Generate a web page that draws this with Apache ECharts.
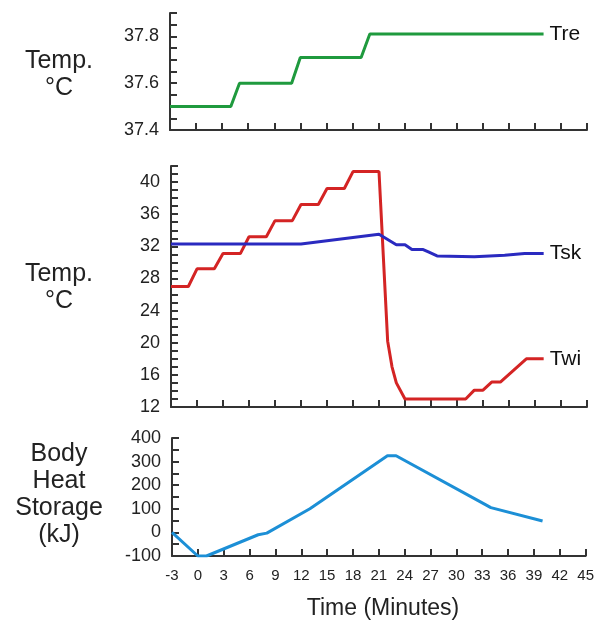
<!DOCTYPE html>
<html>
<head>
<meta charset="utf-8">
<script src="https://cdn.jsdelivr.net/npm/echarts@6/dist/echarts.min.js"></script>
<style>
  html, body { margin: 0; padding: 0; background: #fff; }
  #chart { width: 597px; height: 624px; }
</style>
</head>
<body>
<div id="chart"></div>
<script>
// time (minutes) / value pairs
const treTime = [-3, 4, 5, 11, 12, 19, 20, 40];
const treVals = [37.5, 37.5, 37.6, 37.6, 37.71, 37.71, 37.81, 37.81];

const twiTime = [-3, -1, 0, 2, 3, 5, 6, 8, 9, 11, 12, 14, 15, 17, 18, 21, 22, 22.5, 23, 24, 31, 32, 33, 34, 35, 38, 40];
const twiVals = [27, 27, 29.2, 29.2, 31.1, 31.1, 33.2, 33.2, 35.2, 35.2, 37.2, 37.2, 39.2, 39.2, 41.3, 41.3, 20.2, 17, 15, 13, 13, 14.1, 14.1, 15.1, 15.1, 18, 18];

const tskTime = [-3, 12, 21, 23, 24, 24.8, 26.1, 26.7, 27.7, 32, 35.5, 37.8, 40];
const tskVals = [32.3, 32.3, 33.5, 32.2, 32.2, 31.6, 31.6, 31.3, 30.8, 30.7, 30.9, 31.1, 31.1];

const hsTime = [-3, 0, 1, 7, 8, 13, 22, 23, 33, 34, 40];
const hsVals = [0, -100, -100, -10, -3, 100, 325, 325, 125, 105, 48];

const xTicks = { min: -3, max: 45, interval: 3 };

const pairs = (xs, ys) => xs.map((x, i) => [x, ys[i]]);

const axisColor = '#333';
const font = 'Liberation Sans, Arial, sans-serif';

function xAxis(gridIndex, showLabels) {
  return {
    type: 'value', gridIndex, min: xTicks.min, max: xTicks.max, interval: xTicks.interval,
    axisLine: { show: true, onZero: false, lineStyle: { color: axisColor, width: 2 } },
    axisTick: { show: true, inside: true, length: 7, lineStyle: { color: axisColor, width: 2 } },
    axisLabel: { show: showLabels, color: '#222', fontSize: 15, fontFamily: font, margin: 12 },
    splitLine: { show: false }
  };
}

function yAxis(gridIndex, min, max, interval, labelEvery, dec) {
  return {
    type: 'value', gridIndex, min, max, interval,
    axisLine: { show: true, onZero: false, lineStyle: { color: axisColor, width: 2 } },
    axisTick: { show: true, inside: true, length: 7, lineStyle: { color: axisColor, width: 2 } },
    axisLabel: {
      color: '#222', fontSize: 18, fontFamily: font, margin: 11,
      formatter: v => {
        const k = Math.round(v * 100);
        return k % Math.round(labelEvery * 100) === 0 ? v.toFixed(dec) : '';
      }
    },
    splitLine: { show: false }
  };
}

function lineSeries(name, data, color, xi, yi, label) {
  return {
    name, type: 'line', xAxisIndex: xi, yAxisIndex: yi, data,
    symbol: 'none', lineStyle: { color, width: 3 }, animation: false,
    endLabel: label ? { show: true, formatter: name, color: '#111', fontSize: 21, fontFamily: font, distance: 6 } : { show: false }
  };
}

const chart = echarts.init(document.getElementById('chart'));

const titles = [
  ['Temp.', 59, 61, 25], ['°C', 59, 88, 25],
  ['Temp.', 59, 274, 25], ['°C', 59, 301, 25],
  ['Body', 59, 454, 25], ['Heat', 59, 481, 25], ['Storage', 59, 508, 25], ['(kJ)', 59, 535, 25],
  ['Time (Minutes)', 383, 609, 23]
];

chart.setOption({
  animation: false,
  grid: [
    { left: 170, right: 10, top: 13, height: 117 },
    { left: 171, right: 10, top: 166, height: 241 },
    { left: 172, right: 10, top: 438, height: 118 }
  ],
  xAxis: [xAxis(0, false), xAxis(1, false), xAxis(2, true)],
  yAxis: [
    yAxis(0, 37.4, 37.9, 0.05, 0.2, 1),
    yAxis(1, 12, 42, 1, 4, 0),
    yAxis(2, -100, 400, 50, 100, 0)
  ],
  graphic: titles.map(([t, x, y, size]) => ({
    type: 'text', x, y,
    style: { text: t, fill: '#222', font: size + 'px ' + font, textAlign: 'center', textVerticalAlign: 'middle' }
  })),
  series: [
    lineSeries('Tre', pairs(treTime, treVals), '#1f9a3e', 0, 0, true),
    lineSeries('Twi', pairs(twiTime, twiVals), '#d42424', 1, 1, true),
    lineSeries('Tsk', pairs(tskTime, tskVals), '#2a2ac0', 1, 1, true),
    lineSeries('Heat Storage', pairs(hsTime, hsVals), '#1c8fd6', 2, 2, false)
  ]
});
</script>
</body>
</html>
